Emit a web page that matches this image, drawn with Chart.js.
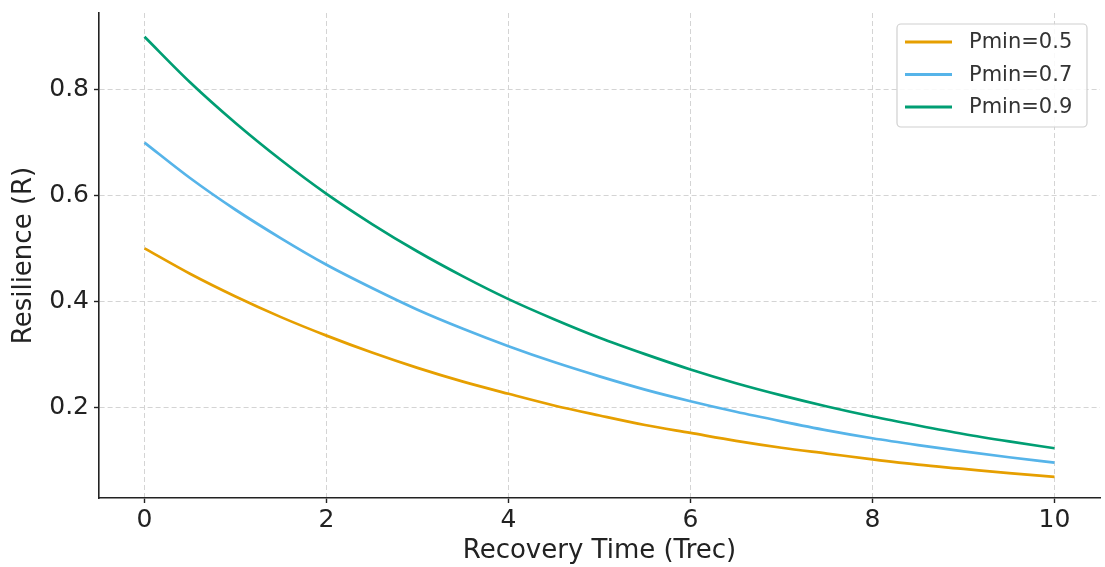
<!DOCTYPE html>
<html>
<head>
<meta charset="utf-8">
<script src="https://cdn.jsdelivr.net/npm/chart.js@4"></script>
<style>
html,body{margin:0;padding:0;background:#fff;}
#wrap{width:1105px;height:567px;}
</style>
</head>
<body>
<div id="wrap"><canvas id="c" width="1105" height="567"></canvas></div>
<script>
// recovery time points (Trec)
const trec=[0,0.5,1,1.5,2,2.5,3,3.5,4,4.5,5,5.5,6,6.5,7,7.5,8,8.5,9,9.5,10];
const labels=["Pmin=0.5","Pmin=0.7","Pmin=0.9"];
const r05=[0.500,0.452,0.409,0.370,0.335,0.303,0.274,0.248,0.225,0.203,0.184,0.166,0.151,0.136,0.123,0.112,0.101,0.091,0.083,0.075,0.068];
const r07=[0.700,0.633,0.573,0.519,0.469,0.425,0.384,0.348,0.315,0.285,0.258,0.233,0.211,0.191,0.173,0.156,0.141,0.128,0.116,0.105,0.095];
const r09=[0.900,0.814,0.737,0.667,0.603,0.546,0.494,0.447,0.404,0.366,0.331,0.300,0.271,0.245,0.222,0.201,0.182,0.165,0.149,0.135,0.122];
const xTicks=[0,2,4,6,8,10];
const yTicks=[0.2,0.4,0.6,0.8];
const colors=["#E69F00","#56B4E9","#009E73"];

const FONT="'DejaVu Sans', sans-serif";

function mk(vals,i){
return {
label:labels[i],
data:vals.map((v,k)=>({x:trec[k],y:v})),
borderColor:colors[i],
borderWidth:2.7,
pointRadius:0,
tension:0.4,
cubicInterpolationMode:"monotone",
fill:false
};
}

// legend box drawn inside the plot, matplotlib style
const boxLegend={
id:"boxLegend",
afterDraw(chart){
const ctx=chart.ctx;
const x0=897,y0=24,w=190,h=103;
ctx.save();
ctx.beginPath();
ctx.roundRect(x0,y0,w,h,4);
ctx.fillStyle="rgba(255,255,255,0.85)";
ctx.fill();
ctx.strokeStyle="#d0d0d0";
ctx.lineWidth=1.2;
ctx.stroke();
ctx.font="21px "+FONT;
ctx.textBaseline="middle";
chart.data.datasets.forEach((d,i)=>{
const y=y0+18+i*32.5;
ctx.strokeStyle=d.borderColor;
ctx.lineWidth=2.8;
ctx.beginPath();
ctx.moveTo(905,y);
ctx.lineTo(952,y);
ctx.stroke();
ctx.fillStyle="#333";
ctx.fillText(d.label,969,y+1);
});
ctx.restore();
}
};

const gridOpts={color:"#d4d4d4",lineWidth:1,tickLength:5,tickColor:"#222",tickBorderDash:[],tickWidth:1.4};
const borderOpts={display:true,color:"#222",width:1.6,dash:[5,3]};

new Chart(document.getElementById("c"),{
type:"line",
data:{datasets:[mk(r05,0),mk(r07,1),mk(r09,2)]},
options:{
responsive:false,
animation:false,
layout:{padding:{top:13,right:5,left:0,bottom:0}},
plugins:{legend:{display:false},tooltip:{enabled:false}},
scales:{
x:{
type:"linear",
min:-0.5,max:10.5,
afterBuildTicks(s){s.ticks=xTicks.map(v=>({value:v}));},
afterFit(s){s.height=69;s.paddingLeft=0;s.paddingRight=0;},
ticks:{font:{family:FONT,size:25},color:"#222",padding:2,maxRotation:0},
grid:gridOpts,
border:borderOpts,
title:{display:true,text:"Recovery Time (Trec)",font:{family:FONT,size:26},color:"#222",padding:{top:0,bottom:0}}
},
y:{
type:"linear",
min:0.028,max:0.945,
afterBuildTicks(s){s.ticks=yTicks.map(v=>({value:v}));},
afterFit(s){s.width=99;s.paddingTop=0;s.paddingBottom=0;},
ticks:{font:{family:FONT,size:25},color:"#222",padding:5,callback:v=>v.toFixed(1)},
grid:gridOpts,
border:borderOpts,
title:{display:true,text:"Resilience (R)",font:{family:FONT,size:26},color:"#222",padding:{top:9,bottom:0}}
}
}
},
plugins:[boxLegend]
});
</script>
</body>
</html>
